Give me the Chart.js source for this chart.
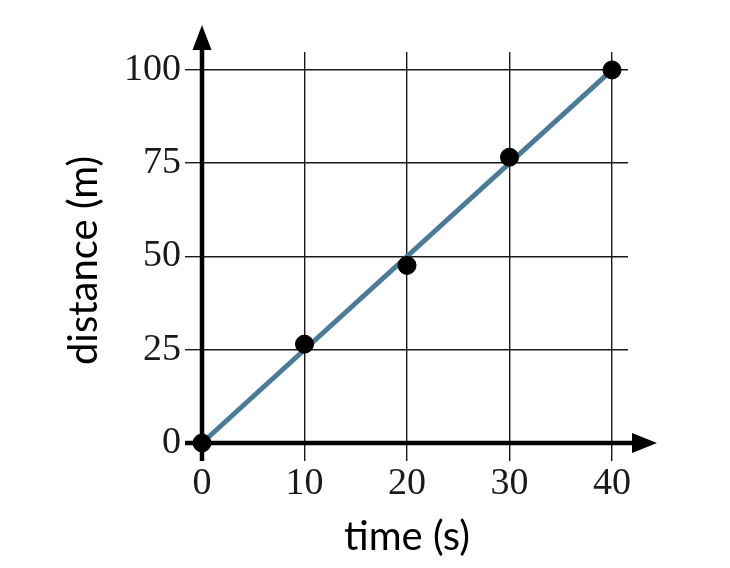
<!DOCTYPE html>
<html>
<head>
<meta charset="utf-8">
<script src="https://cdn.jsdelivr.net/npm/chart.js@4"></script>
<style>
    html, body { margin: 0; padding: 0; background: #fff; }
    #wrap { width: 730px; height: 568px; }
</style>
</head>
<body>
<div id="wrap"><canvas id="distanceChart"></canvas></div>
<script>
// measured points
const timeValues = [0, 10, 20, 30, 40];
const distanceValues = [0, 26.5, 47.6, 76.6, 100];

// straight fit line
const fitTime = [0, 40];
const fitDistance = [0, 100];

// tick labels
const timeTicks = [0, 10, 20, 30, 40];
const distanceTicks = [0, 25, 50, 75, 100];

const lineColor = "#4a7b98";
const serif = "'Liberation Serif', 'Times New Roman', serif";
const sans = "Lato, 'Noto Sans', sans-serif";

function points(xs, ys) {
    return xs.map((x, i) => ({ x, y: ys[i] }));
}

// thick axes with arrow heads, plus axis titles
const axesPlugin = {
    id: "axesArrows",
    beforeDatasetsDraw(chart) {
        const { ctx, chartArea, scales } = chart;
        const x0 = scales.x.getPixelForValue(0);
        const y0 = scales.y.getPixelForValue(0);
        ctx.save();
        ctx.strokeStyle = "#000";
        ctx.fillStyle = "#000";
        ctx.lineWidth = 4.5;
        // x axis
        ctx.beginPath();
        ctx.moveTo(x0 - 17, y0);
        ctx.lineTo(chartArea.right + 8, y0);
        ctx.stroke();
        ctx.beginPath();
        ctx.moveTo(chartArea.right + 29, y0);
        ctx.lineTo(chartArea.right + 4, y0 - 10);
        ctx.lineTo(chartArea.right + 4, y0 + 10);
        ctx.closePath();
        ctx.fill();
        // y axis
        ctx.beginPath();
        ctx.moveTo(x0, y0 + 18);
        ctx.lineTo(x0, chartArea.top - 6);
        ctx.stroke();
        ctx.beginPath();
        ctx.moveTo(x0, chartArea.top - 27);
        ctx.lineTo(x0 - 9.5, chartArea.top - 2);
        ctx.lineTo(x0 + 9.5, chartArea.top - 2);
        ctx.closePath();
        ctx.fill();
        ctx.restore();
    },
    afterDraw(chart) {
        const { ctx, chartArea, scales } = chart;
        ctx.save();
        ctx.fillStyle = "#000";
        ctx.font = "40px " + sans;
        ctx.textAlign = "center";
        ctx.textBaseline = "middle";
        const xMid = (scales.x.getPixelForValue(0) + scales.x.getPixelForValue(40)) / 2;
        ctx.fillText("time (s)", xMid, chartArea.bottom + 94);
        const yMid = (scales.y.getPixelForValue(0) + scales.y.getPixelForValue(100)) / 2 + 4;
        ctx.translate(chartArea.left - 118, yMid);
        ctx.rotate(-Math.PI / 2);
        ctx.fillText("distance (m)", 0, 0);
        ctx.restore();
    }
};

new Chart(document.getElementById("distanceChart"), {
    type: "scatter",
    data: {
        datasets: [
            {
                label: "data",
                data: points(timeValues, distanceValues),
                backgroundColor: "#000",
                borderColor: "#000",
                pointRadius: 9,
                pointHoverRadius: 9,
                showLine: false,
                clip: false,
                order: 1
            },
            {
                label: "fit",
                data: points(fitTime, fitDistance),
                borderColor: lineColor,
                borderWidth: 5,
                pointRadius: 0,
                showLine: true,
                fill: false,
                clip: false,
                order: 2
            }
        ]
    },
    options: {
        responsive: true,
        maintainAspectRatio: false,
        animation: false,
        events: [],
        layout: { padding: { top: 52, right: 102, left: 0, bottom: 0 } },
        plugins: {
            legend: { display: false },
            tooltip: { enabled: false }
        },
        scales: {
            x: {
                type: "linear",
                min: 0,
                max: 41.56,
                afterBuildTicks: s => { s.ticks = timeTicks.map(v => ({ value: v })); },
                afterFit: s => { s.height = 125; },
                border: { display: false },
                grid: { color: "#1a1a1a", lineWidth: 1.4, tickLength: 18, tickColor: "#1a1a1a" },
                ticks: {
                    color: "#1a1a1a",
                    padding: 0,
                    maxRotation: 0,
                    font: { family: serif, size: 38 }
                }
            },
            y: {
                type: "linear",
                min: 0,
                max: 104.8,
                afterBuildTicks: s => { s.ticks = distanceTicks.map(v => ({ value: v })); },
                afterFit: s => { s.width = 202; },
                border: { display: false },
                grid: { color: "#1a1a1a", lineWidth: 1.4, tickLength: 17, tickColor: "#1a1a1a" },
                ticks: {
                    color: "#1a1a1a",
                    padding: 4,
                    font: { family: serif, size: 38 }
                }
            }
        }
    },
    plugins: [axesPlugin]
});
</script>
</body>
</html>
